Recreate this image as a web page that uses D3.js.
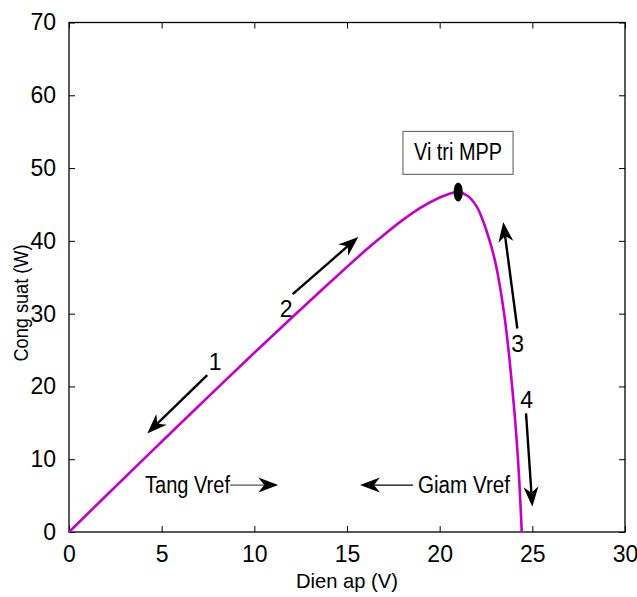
<!DOCTYPE html>
<html>
<head>
<meta charset="utf-8">
<script src="https://cdn.jsdelivr.net/npm/d3@7/dist/d3.min.js"></script>
<style>
  body { margin: 0; background: #fff; }
  svg { display: block; font-family: "Liberation Sans", Arial, sans-serif; }
</style>
</head>
<body>
<svg id="chart" width="637" height="597"></svg>
<script>
// ---- data ----
const voltage = [0, 2, 4, 6, 8, 10, 12, 14, 16, 17, 18, 19, 20, 20.5, 21, 21.5, 22, 22.5, 23, 23.5, 24, 24.25, 24.43];
const power   = [0, 4.98, 9.94, 14.87, 19.77, 24.62, 29.4, 34.1, 38.7, 40.85, 42.85, 44.6, 45.95, 46.45, 46.7, 46.2, 44.7, 41.6, 37.1, 29.6, 17.5, 9.0, 0];
const xTicks = [0, 5, 10, 15, 20, 25, 30];
const yTicks = [0, 10, 20, 30, 40, 50, 60, 70];
const mpp = { v: 21.0, p: 46.7 };
// numbered arrows: label, from (v,p), to (v,p), label position
const arrows = [
  { label: "1", x1: 7.46, y1: 21.55, x2: 4.22, y2: 13.55, lx: 7.88, ly: 22.2 },
  { label: "2", x1: 12.07, y1: 32.67, x2: 15.61, y2: 40.53, lx: 11.71, ly: 29.5 },
  { label: "3", x1: 24.19, y1: 27.96, x2: 23.43, y2: 42.59, lx: 24.21, ly: 24.75 },
  { label: "4", x1: 24.66, y1: 16.29, x2: 25.0, y2: 3.47, lx: 24.7, ly: 17.0 }
];

const svg = d3.select("#chart");
const mLeft = 69, mRight = 625, mTop = 22.5, mBottom = 532;
const x = d3.scaleLinear().domain([0, 30]).range([mLeft, mRight]);
const y = d3.scaleLinear().domain([0, 70]).range([mBottom, mTop]);

// frame
svg.append("rect").attr("x", mLeft).attr("y", mTop)
  .attr("width", mRight - mLeft).attr("height", mBottom - mTop)
  .attr("fill", "none").attr("stroke", "#000").attr("stroke-width", 1.3);

const tickLen = 6;
const fmt = d3.format("d");
const gx = svg.append("g").attr("transform", `translate(0,${mBottom})`)
  .call(d3.axisBottom(x).tickValues(xTicks).tickFormat(fmt).tickSizeInner(-tickLen).tickSizeOuter(0).tickPadding(14));
svg.append("g").attr("transform", `translate(0,${mTop})`)
  .call(d3.axisTop(x).tickValues(xTicks).tickFormat("").tickSizeInner(-tickLen).tickSizeOuter(0));
const gy = svg.append("g").attr("transform", `translate(${mLeft},0)`)
  .call(d3.axisLeft(y).tickValues(yTicks).tickFormat(fmt).tickSizeInner(-tickLen).tickSizeOuter(0).tickPadding(13));
svg.append("g").attr("transform", `translate(${mRight},0)`)
  .call(d3.axisRight(y).tickValues(yTicks).tickFormat("").tickSizeInner(-tickLen).tickSizeOuter(0));

svg.selectAll(".domain").remove();
svg.selectAll(".tick line").attr("stroke", "#000").attr("stroke-width", 1);
svg.selectAll(".tick text").attr("fill", "#000").attr("font-size", 23)
  .attr("font-family", "'Liberation Sans', Arial, sans-serif");
gx.selectAll(".tick text").attr("dy", "0.71em");

// axis labels
svg.append("text").attr("x", x(15)).attr("y", 588)
  .attr("text-anchor", "middle").attr("font-size", 21)
  .attr("textLength", 102).attr("lengthAdjust", "spacingAndGlyphs")
  .text("Dien ap (V)");
svg.append("text").attr("transform", `translate(28,${303}) rotate(-90)`)
  .attr("text-anchor", "middle").attr("font-size", 20.5)
  .attr("textLength", 117).attr("lengthAdjust", "spacingAndGlyphs")
  .text("Cong suat (W)");

// curve
const pts = voltage.map((v, i) => [v, power[i]]);
svg.append("path").datum(pts)
  .attr("d", d3.line().x(d => x(d[0])).y(d => y(d[1])).curve(d3.curveCatmullRom.alpha(0.5)))
  .attr("fill", "none").attr("stroke", "#c400c8").attr("stroke-width", 2.6);

// arrow helper
function arrow(x1, y1, x2, y2, color, width) {
  const dx = x2 - x1, dy = y2 - y1, len = Math.hypot(dx, dy);
  const ux = dx / len, uy = dy / len, nx = -uy, ny = ux;
  const L = 20, W = 7.5, N = 14;
  svg.append("line").attr("x1", x1).attr("y1", y1)
    .attr("x2", x2 - ux * N).attr("y2", y2 - uy * N)
    .attr("stroke", color).attr("stroke-width", width);
  const p = [
    [x2, y2],
    [x2 - ux * L + nx * W, y2 - uy * L + ny * W],
    [x2 - ux * N, y2 - uy * N],
    [x2 - ux * L - nx * W, y2 - uy * L - ny * W]
  ];
  svg.append("path").attr("d", "M" + p.map(q => q.join(",")).join("L") + "Z").attr("fill", "#000");
}

arrows.forEach(a => {
  arrow(x(a.x1), y(a.y1), x(a.x2), y(a.y2), "#000", 2.4);
  svg.append("text").attr("x", x(a.lx)).attr("y", y(a.ly))
    .attr("text-anchor", "middle").attr("font-size", 23).text(a.label);
});

// Tang / Giam Vref
svg.append("text").attr("x", x(4.1)).attr("y", y(5.35)).attr("font-size", 23)
  .attr("textLength", 85).attr("lengthAdjust", "spacingAndGlyphs").text("Tang Vref");
arrow(x(8.69), y(6.45), x(11.29), y(6.45), "#555", 1.2);
svg.append("text").attr("x", x(18.83)).attr("y", y(5.35)).attr("font-size", 23)
  .attr("textLength", 92).attr("lengthAdjust", "spacingAndGlyphs").text("Giam Vref");
arrow(x(18.56), y(6.45), x(15.70), y(6.45), "#000", 1.2);

// MPP box
svg.append("rect").attr("x", x(18.02)).attr("y", y(55.04))
  .attr("width", x(23.96) - x(18.02)).attr("height", y(49.14) - y(55.04))
  .attr("fill", "#fff").attr("stroke", "#555").attr("stroke-width", 1);
svg.append("text").attr("x", x(20.99)).attr("y", y(51.06)).attr("text-anchor", "middle")
  .attr("font-size", 23).attr("textLength", 88).attr("lengthAdjust", "spacingAndGlyphs")
  .text("Vi tri MPP");

// MPP dot
svg.append("ellipse").attr("cx", x(mpp.v)).attr("cy", y(mpp.p))
  .attr("rx", 4.6).attr("ry", 9.5).attr("fill", "#000");
</script>
</body>
</html>
